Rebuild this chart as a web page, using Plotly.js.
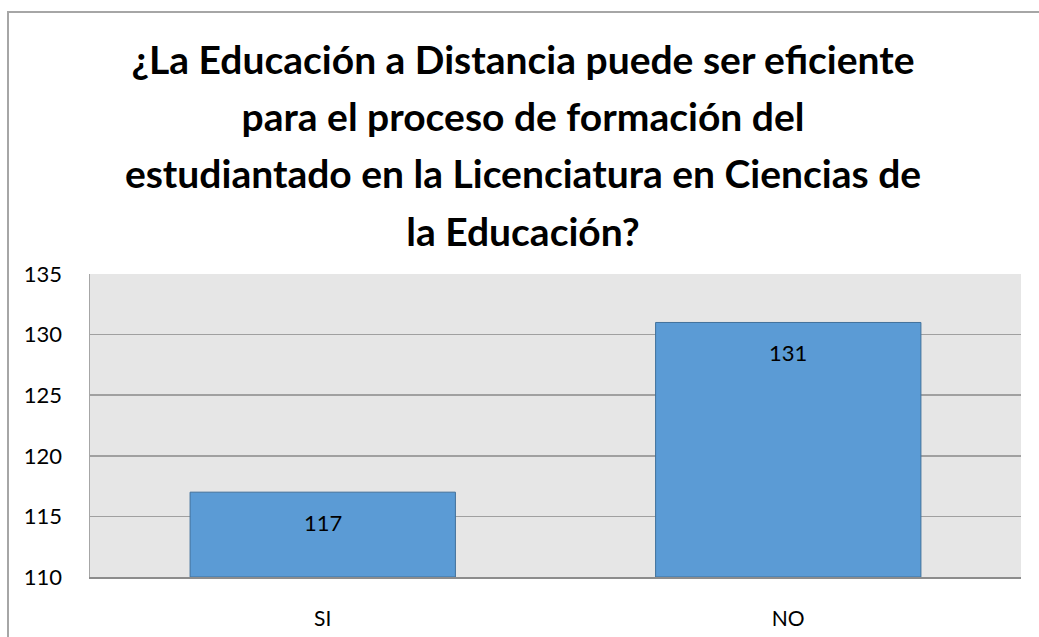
<!DOCTYPE html>
<html>
<head>
<meta charset="utf-8">
<script src="https://cdn.plot.ly/plotly-3.0.1.min.js"></script>
<style>
  html, body { margin: 0; padding: 0; background: #fff; }
  #wrap { position: relative; width: 1039px; height: 637px; overflow: hidden; }
  #chart { width: 1039px; height: 637px; }
  #frame { position: absolute; left: 7px; top: 11px; width: 1100px; height: 700px;
           border: 2px solid #a6a6a6; pointer-events: none; }
</style>
</head>
<body>
<div id="wrap">
  <div id="chart"></div>
  <div id="frame"></div>
</div>
<script>
const categories = ["SI", "NO"];
const values = [117, 131];
const yTicks = [110, 115, 120, 125, 130, 135];
const titleLines = [
  "¿La Educación a Distancia puede ser eficiente",
  "para el proceso de formación del",
  "estudiantado en la Licenciatura en Ciencias de",
  "la Educación?"
];

const FONT = "Lato, 'Open Sans', sans-serif";
const BASE = 110;

const titleText = titleLines
  .map(l => '<span style="font-size:39px">' + l + '</span>')
  .join('<br>');

const trace = {
  type: 'bar',
  x: categories,
  y: values.map(v => v - BASE),
  base: BASE,
  marker: { color: '#5b9bd5', line: { color: '#41719c', width: 1 } },
  hoverinfo: 'x+y'
};

const annotations = categories.map((c, i) => ({
  x: c, y: values[i], xref: 'x', yref: 'y',
  text: String(values[i]), showarrow: false,
  yanchor: 'middle', yshift: -30,
  font: { family: FONT, size: 22, color: '#000' }
}));

const layout = {
  width: 1039, height: 637,
  margin: { l: 90, r: 18, t: 274, b: 60 },
  paper_bgcolor: '#ffffff',
  plot_bgcolor: '#e6e6e6',
  showlegend: false,
  bargap: 0.43,
  title: {
    text: '<b>' + titleText + '</b>',
    font: { family: FONT, size: 44, color: '#000' },
    x: 523 / 1039, xanchor: 'center', xref: 'container',
    y: 1 - 74 / 637, yanchor: 'top', yref: 'container'
  },
  xaxis: {
    type: 'category',
    showgrid: false,
    showline: true, linecolor: '#8c8c8c', linewidth: 2,
    ticks: 'outside', ticklen: 22, tickcolor: 'rgba(0,0,0,0)',
    tickfont: { family: FONT, size: 21, color: '#000' },
    fixedrange: true
  },
  yaxis: {
    range: [110, 135],
    tickvals: yTicks,
    ticktext: yTicks.map(String),
    showgrid: true, gridcolor: '#a0a0a0', gridwidth: 1.5,
    showline: true, linecolor: '#a6a6a6', linewidth: 1.5,
    zeroline: false,
    ticks: 'outside', ticklen: 22, tickcolor: 'rgba(0,0,0,0)',
    tickfont: { family: FONT, size: 22, color: '#000' },
    fixedrange: true
  },
  annotations: annotations
};

Plotly.newPlot('chart', [trace], layout, { displayModeBar: false, staticPlot: true });
</script>
</body>
</html>
